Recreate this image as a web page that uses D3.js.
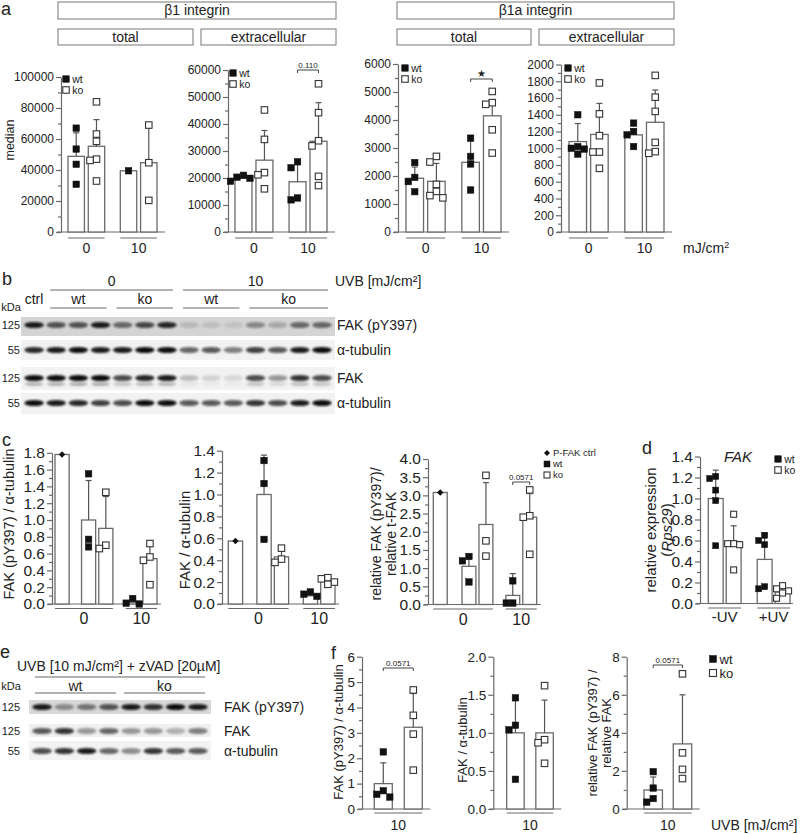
<!DOCTYPE html>
<html>
<head>
<meta charset="utf-8">
<script src="https://cdn.jsdelivr.net/npm/d3@7"></script>
<style>
  body { margin: 0; background: #fff; }
  text { font-family: "Liberation Sans", Arial, sans-serif; fill: #222; }
</style>
</head>
<body>
<svg id="fig" width="800" height="834"></svg>
<script>
// ---------- data ----------
var groups = ["0", "10"];
var series = ["wt", "ko"];
var uvGroups = ["-UV", "+UV"];

// panel a: bars in order wt 0, ko 0, wt 10, ko 10
var b1TotalMean = [48800, 55300, 39500, 44700];
var b1TotalErr = [64000, 72500, null, 67500];
var b1TotalPts = [[67000, 53500, 43700, 30800], [84000, 63200, 58500, 47000, 46200, 32900], [39500], [69000, 44700, 20400]];

var b1ExtraMean = [20000, 26600, 18600, 33600];
var b1ExtraErr = [21200, 37600, 25800, 47900];
var b1ExtraPts = [[21000, 20300, 19900, 18800], [45200, 34300, 22000, 21200, 16000], [26000, 23800, 12600, 11900], [54900, 44200, 33800, 31900, 20600, 17200]];

var b1aTotalMean = [1920, 1810, 2490, 4150];
var b1aTotalErr = [2320, 2450, 3450, 4620];
var b1aTotalPts = [[2480, 1950, 1800, 1440], [2700, 2500, 1700, 1450, 1300, 1220], [3350, 2700, 2430, 1500], [5020, 4620, 4560, 3650, 2820]];

var b1aExtraMean = [1080, 1165, 1160, 1310];
var b1aExtraErr = [1295, 1535, 1230, 1695];
var b1aExtraPts = [[1400, 1020, 1000, 990, 930], [1780, 1410, 1150, 955, 955, 760], [1300, 1200, 1160, 1020], [1870, 1610, 1440, 1070, 960, 940]];

// panel c: ctrl, wt 0, ko 0, wt 10, ko 10
var pFakMean = [1.78, 1.0, 0.90, 0.02, 0.54];
var pFakErr = [null, 1.47, 1.28, null, 0.70];
var pFakPts = [[1.78], [1.55, 0.77, 0.68], [1.33, 0.70, 0.66], [0.065, 0.01, 0.0], [0.72, 0.56, 0.52, 0.23]];

var tFakMean = [0.575, 1.0, 0.43, 0.075, 0.21];
var tFakErr = [null, 1.36, 0.49, 0.10, 0.24];
var tFakPts = [[0.575], [1.31, 1.10, 0.59], [0.51, 0.41, 0.38], [0.11, 0.09, 0.07], [0.24, 0.23, 0.20, 0.18]];

var relFakMean = [3.08, 1.05, 2.2, 0.25, 2.4];
var relFakErr = [null, 1.35, 3.35, 0.85, 3.05];
var relFakPts = [[3.08], [1.32, 1.20, 0.62], [3.55, 1.75, 1.33], [0.65, 0.04, 0.04], [3.15, 2.44, 2.40, 1.38]];

// panel d: wt -UV, ko -UV, wt +UV, ko +UV
var fakExprMean = [1.0, 0.59, 0.42, 0.11];
var fakExprErr = [1.27, 0.74, 0.67, 0.15];
var fakExprPts = [[1.21, 1.19, 1.08, 0.98, 0.55], [0.85, 0.57, 0.57, 0.56, 0.32], [0.65, 0.60, 0.56, 0.16, 0.14], [0.17, 0.14, 0.12, 0.10, 0.05]];

// panel f: wt, ko at 10 mJ/cm2 + zVAD
var fPMean = [1.0, 3.22];
var fPErr = [1.82, 4.55];
var fPPts = [[2.25, 0.72, 0.58, 0.47], [4.69, 3.69, 2.95, 1.53]];
var fTMean = [1.0, 1.0];
var fTErr = [1.43, 1.43];
var fTPts = [[1.46, 1.10, 1.04, 0.39], [1.62, 0.91, 0.87, 0.60]];
var fRMean = [1.0, 3.42];
var fRErr = [1.68, 6.0];
var fRPts = [[1.96, 1.10, 0.55, 0.36], [7.10, 2.95, 2.08, 1.60]];

// western blot band intensities (0..1), one value per lane
var blotBLanes = ["ctrl", "wt", "wt", "wt", "ko", "ko", "ko", "wt", "wt", "wt", "ko", "ko", "ko", "ko"];
var blotBpY397 = [0.85, 0.6, 0.6, 0.85, 0.5, 0.65, 0.8, 0.12, 0.1, 0.08, 0.35, 0.2, 0.5, 0.5];
var blotBTub1 = [0.8, 0.85, 0.9, 0.85, 0.85, 0.95, 0.9, 0.55, 0.6, 0.45, 0.7, 0.6, 0.85, 0.95];
var blotBFak = [0.9, 0.9, 1.0, 1.0, 0.65, 0.8, 0.85, 0.2, 0.12, 0.1, 0.65, 0.35, 0.75, 0.65];
var blotBTub2 = [0.9, 0.85, 0.8, 0.7, 0.65, 0.9, 0.9, 0.6, 0.6, 0.6, 0.75, 0.65, 0.85, 0.9];
var blotELanes = ["wt", "wt", "wt", "wt", "ko", "ko", "ko", "ko"];
var blotEpY397 = [0.85, 0.35, 0.45, 0.6, 0.85, 0.75, 1.0, 0.85];
var blotEFak = [0.6, 0.75, 0.35, 0.55, 0.35, 0.35, 0.25, 0.45];
var blotETub = [0.65, 0.75, 0.85, 0.55, 0.4, 0.75, 0.6, 0.6];

// ---------- helpers ----------
var svg = d3.select("#fig");
var FONT = '"Liberation Sans", Arial, sans-serif';
var gray = "#6a6a6a";

svg.append("defs").append("filter").attr("id", "blur")
    .attr("x", "-50%").attr("y", "-100%").attr("width", "200%").attr("height", "300%")
    .append("feGaussianBlur").attr("stdDeviation", 1.0);

function label(x, y, s, size, anchor, rot) {
    var t = svg.append("text");
    if (rot) t.attr("transform", "translate(" + x + "," + y + ") rotate(-90)");
    else t.attr("x", x).attr("y", y);
    t.attr("dy", "0.35em")
        .attr("font-size", size)
        .attr("text-anchor", anchor || "start")
        .text(s);
    return t;
}

function hline(x1, x2, y, col, w) {
    svg.append("line").attr("x1", x1).attr("x2", x2).attr("y1", y).attr("y2", y)
        .attr("stroke", col || gray).attr("stroke-width", w || 1.1);
}

function marker(x, y, type, s) {
    if (type === "ctrl") {
        svg.append("path")
            .attr("d", "M" + x + "," + (y - s / 2) + "L" + (x + s / 2) + "," + y + "L" + x + "," + (y + s / 2) + "L" + (x - s / 2) + "," + y + "Z")
            .attr("fill", "#111");
    } else {
        svg.append("rect")
            .attr("x", x - s / 2).attr("y", y - s / 2).attr("width", s).attr("height", s)
            .attr("fill", type === "wt" ? "#111" : "#fff")
            .attr("stroke", type === "wt" ? "#111" : "#333")
            .attr("stroke-width", type === "wt" ? 0.5 : 1.1);
    }
}

function legend(x, y, type, s, fs, sq) {
    marker(x, y, type, sq);
    label(x + sq / 2 + 3, y, s, fs);
}

// spread points that would overlap
function dodge(vals, y, cx, w) {
    var placed = [];
    return vals.map(function (v) {
        var py = y(v), offs = [0, -w, w, -2 * w, 2 * w], ox = 0;
        for (var j = 0; j < offs.length; j++) {
            var ok = placed.every(function (p) {
                return Math.abs(p.x - (cx + offs[j])) >= w - 0.5 || Math.abs(p.y - py) >= w;
            });
            if (ok) { ox = offs[j]; break; }
        }
        var pt = { x: cx + ox, y: py };
        placed.push(pt);
        return pt;
    });
}

function barChart(c) {
    var y = d3.scaleLinear().domain([0, c.max]).range([c.y0, c.yTop]);
    var units = [], u = 0;
    c.keys.forEach(function (k, i) {
        if (i > 0) {
            var prev = c.keys[i - 1];
            u += 1;
            if (k.group !== prev.group) u += c.gap;
            else if (prev.series === "ctrl") u += c.ctrlGap;
        }
        units.push(u);
    });
    var x = d3.scaleLinear().domain([0, u + c.frac]).range([c.xL, c.xR]);

    // y axis
    var majors = d3.range(0, c.max + c.step / 2, c.step);
    var minors = d3.range(c.step / 2, c.max, c.step);
    var yAx = svg.append("g").attr("transform", "translate(" + c.ax + ",0)")
        .attr("font-family", FONT)
        .call(d3.axisLeft(y).tickValues(majors).tickFormat(c.fmt).tickSize(5).tickSizeOuter(0).tickPadding(2));
    yAx.append("g")
        .call(d3.axisLeft(y).tickValues(minors).tickFormat(function () { return ""; }).tickSize(3).tickSizeOuter(0))
        .select(".domain").remove();
    yAx.selectAll("path, line").attr("stroke", gray).attr("stroke-width", 1.2);
    yAx.selectAll("text").attr("font-size", c.fs).attr("fill", "#222");

    // x axis line
    hline(c.ax - 4, c.xR + c.xOver, c.y0, gray, 1.2);

    var centers = [];
    c.keys.forEach(function (k, i) {
        var x1 = x(units[i]), x2 = x(units[i] + c.frac), cx = (x1 + x2) / 2;
        centers.push(cx);
        svg.append("rect")
            .attr("x", x1).attr("y", y(c.mean[i]))
            .attr("width", x2 - x1).attr("height", c.y0 - y(c.mean[i]))
            .attr("fill", "#fff").attr("stroke", gray).attr("stroke-width", 1.3);
    });
    c.keys.forEach(function (k, i) {
        if (c.err[i] == null) return;
        var cx = centers[i];
        svg.append("line").attr("x1", cx).attr("x2", cx)
            .attr("y1", y(c.mean[i])).attr("y2", y(c.err[i]))
            .attr("stroke", "#555").attr("stroke-width", 1.2);
        hline(cx - 3, cx + 3, y(c.err[i]), "#555", 1.2);
    });
    c.keys.forEach(function (k, i) {
        dodge(c.pts[i], y, centers[i], c.sq).forEach(function (p) {
            marker(p.x, p.y, k.series, c.sq);
        });
    });

    // group underlines and labels
    var gNames = Array.from(new Set(c.keys.map(function (k) { return k.group; })));
    gNames.forEach(function (gName) {
        var idx = c.keys.map(function (k, i) { return k.group === gName ? i : -1; })
            .filter(function (i) { return i >= 0; });
        var gx1 = x(units[idx[0]]), gx2 = x(units[idx[idx.length - 1]] + c.frac);
        hline(gx1, gx2, c.y0 + c.gOff, gray, 1.1);
        label((gx1 + gx2) / 2, c.y0 + c.gLab, gName, c.gFs, "middle");
    });
    return { x: x, y: y, centers: centers };
}

function bracket(x1, x2, y, txt, fs) {
    svg.append("path")
        .attr("d", "M" + x1 + "," + (y + 3) + "V" + y + "H" + x2 + "V" + (y + 3))
        .attr("fill", "none").attr("stroke", "#444").attr("stroke-width", 1);
    label((x1 + x2) / 2, y - 5, txt, fs, "middle");
}

function blot(lanes, x1, x2, rows) {
    var lx = d3.scaleBand().domain(d3.range(lanes.length)).range([x1, x2]);
    rows.forEach(function (r) {
        svg.append("rect").attr("x", x1 - 2).attr("y", r.y1)
            .attr("width", x2 - x1 + 4).attr("height", r.y2 - r.y1)
            .attr("fill", r.bg);
        r.vals.forEach(function (v, i) {
            var cx = lx(i) + lx.bandwidth() / 2;
            svg.append("ellipse").attr("cx", cx).attr("cy", r.yc)
                .attr("rx", lx.bandwidth() * 0.44).attr("ry", 3.1)
                .attr("fill", "#0c0c0c").attr("opacity", Math.min(1, v * 1.1))
                .attr("filter", "url(#blur)");
            if (r.doublet) {
                svg.append("ellipse").attr("cx", cx).attr("cy", r.yc + 6)
                    .attr("rx", lx.bandwidth() * 0.42).attr("ry", 2)
                    .attr("fill", "#151515").attr("opacity", v * 0.3)
                    .attr("filter", "url(#blur)");
            }
        });
        label(20, r.yc, r.kda, 11, "end");
        label(r.lx, r.yc, r.name, 14);
    });
    return lx;
}

function laneSpan(lx, i1, i2, inset) {
    return [lx(i1) + inset, lx(i2) + lx.bandwidth() - inset];
}

var keysA = d3.cross(groups, series).map(function (p) { return { group: p[0], series: p[1] }; });
var keysC = [{ group: "0", series: "ctrl" }].concat(keysA);
var keysD = d3.cross(uvGroups, series).map(function (p) { return { group: p[0], series: p[1] }; });
var keysF = series.map(function (s) { return { group: "10", series: s }; });

// ---------- panel a ----------
label(1, 9, "a", 18);
[[58, 336, 2, 19, "β1 integrin"], [58, 193, 29, 45, "total"], [201, 336, 29, 45, "extracellular"],
 [397, 674, 2, 19, "β1a integrin"], [397, 531, 29, 45, "total"], [539, 674, 29, 45, "extracellular"]]
    .forEach(function (b) {
        svg.append("rect").attr("x", b[0]).attr("y", b[2]).attr("width", b[1] - b[0]).attr("height", b[3] - b[2])
            .attr("fill", "#fff").attr("stroke", "#777").attr("stroke-width", 1);
        label((b[0] + b[1]) / 2, (b[2] + b[3]) / 2, b[4], 14, "middle");
    });

var aBase = { y0: 232, gap: 0.58, ctrlGap: 0, frac: 0.81, fs: 12, sq: 6.5, gOff: 6, gLab: 16, gFs: 14, xOver: 8, keys: keysA, fmt: d3.format("d") };
barChart(Object.assign({}, aBase, { ax: 61, yTop: 77, max: 100000, step: 20000, xL: 68, xR: 157, mean: b1TotalMean, err: b1TotalErr, pts: b1TotalPts }));
var a2 = barChart(Object.assign({}, aBase, { ax: 228, yTop: 70, max: 60000, step: 10000, xL: 235, xR: 327, mean: b1ExtraMean, err: b1ExtraErr, pts: b1ExtraPts }));
var a3 = barChart(Object.assign({}, aBase, { ax: 398, yTop: 64, max: 6000, step: 1000, xL: 406, xR: 501, mean: b1aTotalMean, err: b1aTotalErr, pts: b1aTotalPts }));
barChart(Object.assign({}, aBase, { ax: 561, yTop: 64.5, max: 2000, step: 200, xL: 569, xR: 664, mean: b1aExtraMean, err: b1aExtraErr, pts: b1aExtraPts }));

label(10, 140, "median", 12.5, "middle", true);
[[66, 79], [233, 73], [405, 68], [568, 68]].forEach(function (p) {
    legend(p[0], p[1], "wt", "wt", 10.5, 6.5);
    legend(p[0], p[1] + 11, "ko", "ko", 10.5, 6.5);
});
bracket(a2.centers[2], a2.centers[3], 70, "0.110", 8);
svg.append("path").attr("d", "M" + a3.centers[2] + ",82V79H" + a3.centers[3] + "V82")
    .attr("fill", "none").attr("stroke", "#444").attr("stroke-width", 1);
label((a3.centers[2] + a3.centers[3]) / 2, 73, "★", 10, "middle");
var mj = label(683, 248, "mJ/cm", 14);
mj.append("tspan").attr("dy", "-0.6em").attr("font-size", 9).text("2");

// ---------- panel b ----------
label(2, 279, "b", 18);
var lxB = blot(blotBLanes, 23, 333, [
    { name: "FAK (pY397)", kda: "125", yc: 325, y1: 317, y2: 336, bg: "#d4d4d4", vals: blotBpY397, lx: 337 },
    { name: "α-tubulin", kda: "55", yc: 350, y1: 340, y2: 360, bg: "#f2f2f2", vals: blotBTub1, lx: 337 },
    { name: "FAK", kda: "125", yc: 378, y1: 367, y2: 390, bg: "#f2f2f2", vals: blotBFak, lx: 337, doublet: true },
    { name: "α-tubulin", kda: "55", yc: 403, y1: 393, y2: 414, bg: "#f2f2f2", vals: blotBTub2, lx: 337 }
]);
label(11, 307, "kDa", 11, "middle");
[[1, 6, "0"], [7, 13, "10"]].forEach(function (s) {
    var sp = laneSpan(lxB, s[0], s[1], 5);
    hline(sp[0], sp[1], 290, "#666", 1);
    label((sp[0] + sp[1]) / 2, 281, s[2], 14, "middle");
});
[[1, 3, "wt"], [4, 6, "ko"], [7, 9, "wt"], [10, 13, "ko"]].forEach(function (s) {
    var sp = laneSpan(lxB, s[0], s[1], 5);
    hline(sp[0], sp[1], 308, "#666", 1);
    label((sp[0] + sp[1]) / 2, 299, s[2], 14, "middle");
});
label(lxB(0) + lxB.bandwidth() / 2, 299, "ctrl", 14, "middle");
label(335, 281, "UVB [mJ/cm²]", 14);

// ---------- panel c ----------
label(2, 440, "c", 18);
var cBase = { y0: 604, frac: 0.82, fs: 15.5, sq: 6.5, gOff: 4.5, gLab: 14.5, gFs: 16, xOver: 4, keys: keysC, fmt: d3.format(".1f") };
barChart(Object.assign({}, cBase, { ax: 52, yTop: 452.8, max: 1.8, step: 0.2, xL: 55, xR: 157, gap: 0.56, ctrlGap: 0.54, mean: pFakMean, err: pFakErr, pts: pFakPts }));
barChart(Object.assign({}, cBase, { ax: 222, yTop: 450.7, max: 1.4, step: 0.2, xL: 228.3, xR: 335, gap: 0.66, ctrlGap: 0.64, mean: tFakMean, err: tFakErr, pts: tFakPts }));
var c3 = barChart(Object.assign({}, cBase, { y0: 604.5, ax: 428, yTop: 459, max: 4, step: 0.5, xL: 433.3, xR: 536.7, gap: 0.58, ctrlGap: 0.69, mean: relFakMean, err: relFakErr, pts: relFakPts }));
label(9, 524, "FAK (pY397) / α-tubulin", 14.5, "middle", true);
label(185, 540, "FAK  / α-tubulin", 15, "middle", true);
label(376, 534, "relative FAK (pY397)/", 14, "middle", true);
label(391, 534, "relative t-FAK", 14, "middle", true);
bracket(c3.centers[3], c3.centers[4], 482, "0.0571", 8);
legend(547, 453, "ctrl", "P-FAK ctrl", 9.5, 6);
legend(547, 464, "wt", "wt", 9.5, 6);
legend(547, 475, "ko", "ko", 9.5, 6);

// ---------- panel d ----------
label(642, 448, "d", 18);
barChart({ y0: 603.5, ax: 700, yTop: 456.5, max: 1.4, step: 0.2, xL: 708.3, xR: 790, gap: 0.73, ctrlGap: 0, frac: 0.83,
    fs: 15.5, sq: 6, gOff: 4.5, gLab: 13.5, gFs: 15, xOver: 3, keys: keysD, fmt: d3.format(".1f"),
    mean: fakExprMean, err: fakExprErr, pts: fakExprPts });
label(738, 457, "FAK", 15, "middle").attr("font-style", "italic");
label(651, 530, "relative expression", 15, "middle", true);
var rps = label(667, 530, "(", 15, "middle", true);
rps.append("tspan").attr("font-style", "italic").text("Rps29");
rps.append("tspan").text(")");
legend(778, 459, "wt", "wt", 10.5, 6.5);
legend(778, 470, "ko", "ko", 10.5, 6.5);

// ---------- panel e ----------
label(0, 652, "e", 18);
label(17, 666, "UVB [10 mJ/cm²] + zVAD [20µM]", 14);
var lxE = blot(blotELanes, 31, 209, [
    { name: "FAK (pY397)", kda: "125", yc: 707, y1: 700, y2: 714, bg: "#d8d8d8", vals: blotEpY397, lx: 224 },
    { name: "FAK", kda: "125", yc: 731, y1: 724, y2: 737, bg: "#f0f0f0", vals: blotEFak, lx: 224 },
    { name: "α-tubulin", kda: "55", yc: 751, y1: 741, y2: 760, bg: "#f3f3f3", vals: blotETub, lx: 224 }
]);
label(11, 686, "kDa", 11, "middle");
var spAll = laneSpan(lxE, 0, 7, 4);
hline(spAll[0], spAll[1], 677, "#666", 1);
[[0, 3, "wt"], [4, 7, "ko"]].forEach(function (s) {
    var sp = laneSpan(lxE, s[0], s[1], 4);
    hline(sp[0], sp[1], 693, "#666", 1);
    label((sp[0] + sp[1]) / 2, 686, s[2], 14, "middle");
});

// ---------- panel f ----------
label(331, 653, "f", 18);
var fBase = { y0: 809, yTop: 656.7, gap: 0, ctrlGap: 0, fs: 13.5, sq: 6.5, gOff: 4, gLab: 16, gFs: 14, xOver: 8, keys: keysF };
var f1 = barChart(Object.assign({}, fBase, { ax: 362, max: 6, step: 1, fmt: d3.format("d"), xL: 374.3, xR: 422.3, frac: 0.6, mean: fPMean, err: fPErr, pts: fPPts }));
barChart(Object.assign({}, fBase, { ax: 493.3, max: 2, step: 0.5, fmt: d3.format(".1f"), xL: 506.7, xR: 553.3, frac: 0.6, mean: fTMean, err: fTErr, pts: fTPts }));
var f3 = barChart(Object.assign({}, fBase, { ax: 626.7, max: 8, step: 2, fmt: d3.format("d"), xL: 644, xR: 691.7, frac: 0.63, mean: fRMean, err: fRErr, pts: fRPts }));
label(338, 732, "FAK (pY397) / α-tubulin", 13, "middle", true);
label(462, 740, "FAK / α-tubulin", 13, "middle", true);
label(592, 733, "relative FAK (pY397) /", 13, "middle", true);
label(606, 733, "relative FAK", 13, "middle", true);
bracket(f1.centers[0], f1.centers[1], 668, "0.0571", 8);
bracket(f3.centers[0], f3.centers[1], 665, "0.0571", 8);
legend(713, 659, "wt", "wt", 13, 7);
legend(713, 673, "ko", "ko", 13, 7);
label(711, 825, "UVB [mJ/cm²]", 14);
</script>
</body>
</html>
